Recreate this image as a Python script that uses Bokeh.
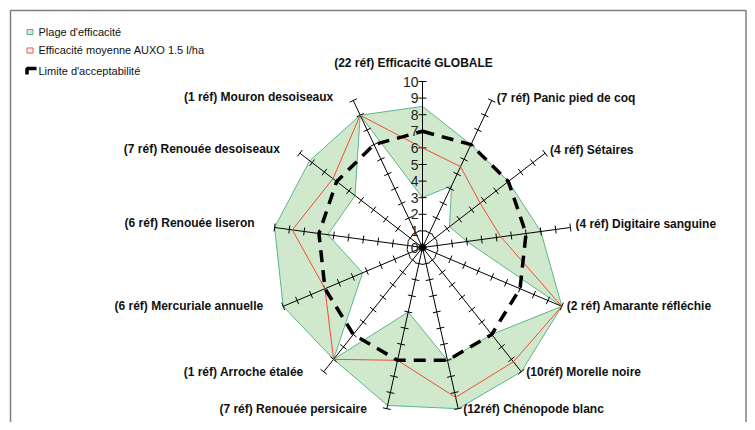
import numpy as np
from bokeh.plotting import figure
from bokeh.models import Range1d
from bokeh.core.properties import value
from bokeh.embed import file_html
from bokeh.resources import INLINE

# ---------------- data ----------------
categories = [
    "(22 réf) Efficacité GLOBALE",
    "(7 réf) Panic pied de coq",
    "(4 réf) Sétaires",
    "(4 réf) Digitaire sanguine",
    "(2 réf) Amarante réfléchie",
    "(10réf) Morelle noire",
    "(12réf) Chénopode blanc",
    "(7 réf) Renouée persicaire",
    "(1 réf) Arroche étalée",
    "(6 réf) Mercuriale annuelle",
    "(6 réf) Renouée liseron",
    "(7 réf) Renouée desoiseaux",
    "(1 réf) Mouron desoiseaux",
]
eff_max = [8.5, 7.0, 7.0, 8.0, 10.0, 10.0, 10.0, 9.8, 9.0, 10.0, 10.0, 9.2, 9.0]
eff_min = [3.0, 4.2, 2.2, 3.0, 10.0, 7.0, 7.0, 4.0, 9.0, 4.3, 6.4, 5.5, 9.0]
eff_mean = [6.0, 5.5, 4.7, 5.3, 10.0, 9.2, 9.3, 7.0, 9.0, 7.0, 8.8, 7.3, 9.0]
limit = [7, 7, 7, 7, 7, 7, 7, 7, 7, 7, 7, 7, 7]
tick_values = [0, 1, 2, 3, 4, 5, 6, 7, 8, 9, 10]
legend_labels = ["Plage d'efficacité", "Efficacité moyenne AUXO 1.5 l/ha", "Limite d'acceptabilité"]

# ---------------- geometry ----------------
W, H = 747, 422
CX, CY = 422, 247          # centre in canvas pixels
SX, SY = 14.9, 16.6        # pixels per unit, horizontal / vertical
RMAX = 10

n = len(categories)
theta = np.arange(n) * 2 * np.pi / n
sn, cs = np.sin(theta), np.cos(theta)


def polar(vals):
    v = np.asarray(vals, dtype=float)
    return list(v * sn), list(v * cs)


def px(x):
    return (x - CX) / SX


def py(y):
    return (CY - y) / SY


p = figure(width=W, height=H, output_backend="svg", toolbar_location=None,
           x_range=Range1d(px(0), px(W)), y_range=Range1d(py(H), py(0)),
           min_border=0, min_border_left=0, min_border_right=0,
           min_border_top=0, min_border_bottom=0)
p.axis.visible = False
p.grid.visible = False
p.outline_line_color = None
p.background_fill_color = "white"
p.border_fill_color = "white"

GREEN_FILL = "#d0e8cc"
GREEN_LINE = "#5cb58a"
RED = "#f04e3a"
FONT = "Liberation Sans"

# efficacy band (max polygon with min polygon as hole)
ox, oy = polar(eff_max)
ix, iy = polar(eff_min)
p.multi_polygons(xs=[[[ox, ix]]], ys=[[[oy, iy]]], fill_color=GREEN_FILL,
                 line_color=GREEN_LINE, line_width=1)

# spokes
ex, ey = polar([RMAX] * n)
p.segment(x0=[0] * n, y0=[0] * n, x1=ex, y1=ey, line_color="black", line_width=1)

# tick crosses on every spoke
half = 4.0
tx0, ty0, tx1, ty1 = [], [], [], []
for k in range(n):
    dpx, dpy = sn[k] * SX, cs[k] * SY
    L = np.hypot(dpx, dpy)
    nx, ny = -dpy / L, dpx / L
    for v in tick_values:
        bx, by = v * dpx, v * dpy
        tx0.append((bx + half * nx) / SX)
        ty0.append((by + half * ny) / SY)
        tx1.append((bx - half * nx) / SX)
        ty1.append((by - half * ny) / SY)
p.segment(x0=tx0, y0=ty0, x1=tx1, y1=ty1, line_color="black", line_width=1)

# mean line
mx, my = polar(eff_mean)
p.line(mx + mx[:1], my + my[:1], line_color=RED, line_width=1)

# acceptability limit
lx, ly = polar(limit)
p.line(lx + lx[:1], ly + ly[:1], line_color="black", line_width=3.5,
       line_dash="12 8")

# value labels on the top axis
p.text(x=[px(CX - 4)] * len(tick_values), y=tick_values,
       text=[str(t) for t in tick_values], text_align="right",
       text_baseline="middle", text_font=value(FONT),
       text_font_size="14px", text_color="#222222")

# category labels
lab_x, lab_y, lab_align = [], [], []
for k in range(n):
    exp, eyp = CX + RMAX * sn[k] * SX, CY - RMAX * cs[k] * SY
    if k == 0:
        lab_x.append(px(exp - 9)); lab_y.append(py(eyp - 19)); lab_align.append("center")
    elif sn[k] > 0:
        lab_x.append(px(exp + 5)); lab_y.append(py(eyp - (3 if cs[k] > 0 else 0))); lab_align.append("left")
    else:
        lab_x.append(px(exp - 20)); lab_y.append(py(eyp - (4 if cs[k] > 0 else 0))); lab_align.append("right")
p.text(x=lab_x, y=lab_y, text=categories, text_align=lab_align,
       text_baseline="middle", text_font=value(FONT),
       text_font_style="bold", text_font_size="12px", text_color="#111111")

# legend (drawn manually)
p.quad(left=[px(26.5)], right=[px(32.5)], top=[py(29)], bottom=[py(34)],
       fill_color=GREEN_FILL, line_color=GREEN_LINE, line_width=1)
p.quad(left=[px(26.5)], right=[px(32.5)], top=[py(47.5)], bottom=[py(52.5)],
       fill_color="white", line_color=RED, line_width=1)
p.line([px(36), px(26.5), px(26.5)], [py(68), py(68), py(74)],
       line_color="black", line_width=3.5)
p.text(x=[px(38)] * 3, y=[py(31.5), py(49.5), py(70)], text=legend_labels,
       text_align="left", text_baseline="middle", text_font=value(FONT),
       text_font_size="11px", text_color="#111111")

# chart frame
p.line([px(10), px(10), px(745.5), px(745.5)], [py(425), py(10), py(10), py(425)],
       line_color="#7f7f7f", line_width=1.5)

open("out.html", "w").write(file_html(p, INLINE))
